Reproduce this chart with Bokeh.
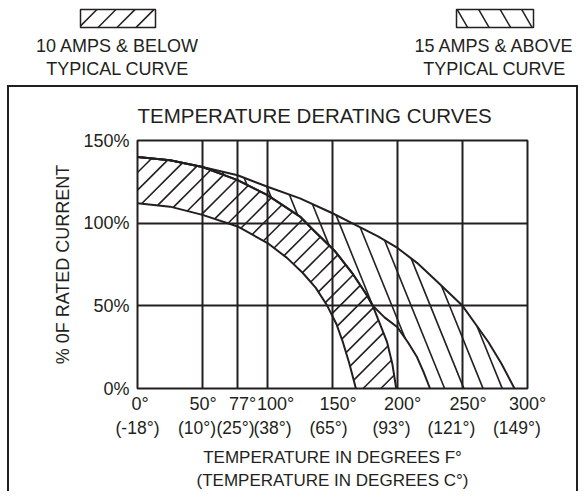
import numpy as np
from bokeh.plotting import figure
from bokeh.layouts import column
from bokeh.models import Range1d, FixedTicker, LinearAxis
from bokeh.embed import file_html
from bokeh.resources import INLINE
from bokeh.core.properties import value

# ---------------- data ----------------
temp_ticks_f = [0, 50, 77, 100, 150, 200, 250, 300]
temp_ticks_c = [-18, 10, 25, 38, 65, 93, 121, 149]
grid_temps_f = [50, 77, 100, 150, 200, 250]
pct_ticks = [0, 50, 100, 150]
grid_pcts = [50, 100]

# 15 amps & above: upper boundary
c1_t = [0, 25, 50, 77, 100, 125, 150, 165, 185, 200, 215, 230, 250, 260, 270, 280, 290]
c1_p = [140, 138, 134, 129, 122, 115, 106, 100, 92, 85, 76, 65, 50, 39, 28, 15, 0]
# 10 amps & below: upper boundary
c2_t = [0, 25, 50, 77, 100, 125, 135, 152, 165, 176, 181, 187, 192, 196, 199]
c2_p = [140, 138, 134, 126, 117, 104, 96, 83, 70, 57, 50, 38, 28, 15, 0]
# 15 amps & above: lower boundary
c3_t = [0, 25, 50, 77, 100, 125, 135, 152, 165, 176, 181, 190, 200, 208, 215, 220, 225]
c3_p = [140, 138, 134, 126, 117, 104, 96, 83, 70, 57, 50, 43, 37, 28, 19, 10, 0]
# 10 amps & below: lower boundary
c4_t = [0, 25, 50, 77, 100, 115, 127, 137, 146, 153, 158, 163, 168]
c4_p = [112, 110, 105, 98, 88, 79, 70, 61, 50, 39, 28, 15, 0]

legend_a = ["10 AMPS & BELOW", "TYPICAL CURVE"]
legend_b = ["15 AMPS & ABOVE", "TYPICAL CURVE"]
title_text = "TEMPERATURE DERATING CURVES"
x_label = "TEMPERATURE IN DEGREES F°\n(TEMPERATURE IN DEGREES C°)"
y_label = "% 0F RATED CURRENT"

INK = "#231f20"
FONT = "Liberation Sans"

# label nudges (pixels) so that crowded tick labels sit side by side as in the original
f_label_nudge_px = [2.5, 0.5, 5, 8, 5.5, 5, 5.5, 0]
c_label_nudge_px = [0, -5.5, -2, 5, -4, -6, -11, -10.5]


def inside_poly(px, py, vx, vy):
    ins = np.zeros(px.shape, bool)
    j = len(vx) - 1
    for i in range(len(vx)):
        xi, yi, xj, yj = vx[i], vy[i], vx[j], vy[j]
        cond = (yi > py) != (yj > py)
        with np.errstate(divide="ignore", invalid="ignore"):
            xint = (xj - xi) * (py - yi) / (yj - yi) + xi
        ins ^= cond & (px < xint)
        j = i
    return ins


def hatch_segments(vx, vy, angle_deg, spacing, phase=0.0, n=1500):
    """parallel lines (y up) clipped to a polygon; spacing measured horizontally"""
    vx = np.asarray(vx, float)
    vy = np.asarray(vy, float)
    th = np.radians(angle_deg)
    d = np.array([np.cos(th), np.sin(th)])
    nr = np.array([-np.sin(th), np.cos(th)])
    proj = vx * nr[0] + vy * nr[1]
    along = vx * d[0] + vy * d[1]
    perp = spacing * abs(np.sin(th))
    t = np.linspace(along.min() - 1, along.max() + 1, n)
    segs = []
    for k in np.arange(np.floor((proj.min() - phase) / perp), np.ceil((proj.max() - phase) / perp) + 1):
        c = phase + k * perp
        px = c * nr[0] + t * d[0]
        py = c * nr[1] + t * d[1]
        ins = inside_poly(px, py, vx, vy).astype(int)
        idx = np.flatnonzero(np.diff(np.concatenate([[0], ins, [0]])))
        for a, b in zip(idx[::2], idx[1::2]):
            if b - 1 > a:
                segs.append((px[a], py[a], px[b - 1], py[b - 1]))
    return segs


# ---------------- header with the two legend keys (page pixel coords) ----------------
HW, HH = 577, 85
hdr = figure(width=HW, height=HH, x_range=Range1d(0, HW), y_range=Range1d(HH, 0),
             output_backend="svg", toolbar_location=None, min_border=0, title=None)
hdr.axis.visible = False
hdr.grid.visible = False
hdr.outline_line_color = None

for (l, r, t, b), ang, sp, ph, lines, cx in (((80, 155, 9, 27), 45, 19.0, 6.0, legend_a, 117),
                                             ((456, 533, 9, 27), -60, 21.5, 0.0, legend_b, 494)):
    segs = hatch_segments([l, r, r, l], [-t, -t, -b, -b], ang, sp, ph, n=400)
    hdr.segment(x0=[s[0] for s in segs], y0=[-s[1] for s in segs],
                x1=[s[2] for s in segs], y1=[-s[3] for s in segs],
                line_color=INK, line_width=1.5)
    hdr.quad(left=[l], right=[r], top=[t], bottom=[b], fill_alpha=0,
             line_color=INK, line_width=1.5)
    hdr.text(x=[cx, cx], y=[45, 68], text=lines, text_font=value(FONT), text_font_size="18px",
             text_color=INK, text_align="center", text_baseline="middle")

# ---------------- main chart ----------------
BX, BY = 9, 89                               # page position of the main canvas (inside the box)
FL, FR, FT, FB = 137, 523, 141, 387          # plot frame in page pixels
SX = (FR - FL) / 300.0
SY = (FB - FT) / 150.0
p = figure(frame_width=FR - FL, frame_height=FB - FT, x_range=Range1d(0, 300), y_range=Range1d(0, 150),
           output_backend="svg", toolbar_location=None,
           min_border_left=FL - BX, min_border_right=576 - FR,
           min_border_top=FT - BY, min_border_bottom=492 - FB,
           styles={"border-top": f"2px solid {INK}", "border-left": f"2px solid {INK}",
                   "border-right": f"2px solid {INK}"})
p.margin = (0, 0, 0, 7)

for f in (hdr, p):
    try:
        f.frame_align = False
    except Exception:
        pass

p.title.text = title_text
p.title.align = "left"
p.title.text_font = FONT
p.title.text_font_size = "20.5px"
p.title.text_font_style = "normal"
p.title.text_color = INK
p.title.text_line_height = 1.0
p.title.standoff = 28

p.outline_line_color = INK
p.outline_line_width = 2
p.outline_line_alpha = 1

p.xgrid.ticker = FixedTicker(ticks=grid_temps_f)
p.ygrid.ticker = FixedTicker(ticks=grid_pcts)
p.grid.grid_line_color = INK
p.grid.grid_line_width = 2
p.grid.grid_line_alpha = 1

# Fahrenheit labels (first line)
f_pos = [t + s / SX for t, s in zip(temp_ticks_f, f_label_nudge_px)]
ax_f = p.xaxis[0]
ax_f.ticker = FixedTicker(ticks=f_pos)
ax_f.major_label_overrides = {pos: f"{t}°" for pos, t in zip(f_pos, temp_ticks_f)}

# Celsius labels (second line) on a second axis below
c_pos = [t + s / SX for t, s in zip(temp_ticks_f, c_label_nudge_px)]
ax_c = LinearAxis(ticker=FixedTicker(ticks=c_pos),
                  major_label_overrides={pos: f"({c}°)" for pos, c in zip(c_pos, temp_ticks_c)})
p.add_layout(ax_c, "below")

p.yaxis.ticker = FixedTicker(ticks=pct_ticks)
p.yaxis.major_label_overrides = {v: f"{v}%" for v in pct_ticks}

for ax in (ax_f, ax_c, p.yaxis[0]):
    ax.axis_line_color = None
    ax.major_tick_line_color = None
    ax.minor_tick_line_color = None
    ax.major_tick_out = 0
    ax.major_tick_in = 0
    ax.minor_tick_out = 0
    ax.major_label_text_font = FONT
    ax.major_label_text_font_size = "18px"
    ax.major_label_text_color = INK
    ax.axis_label_text_font = FONT
    ax.axis_label_text_font_style = "normal"
    ax.axis_label_text_color = INK

ax_f.major_label_standoff = 5
ax_c.major_label_text_font_size = "17.5px"
ax_c.major_label_standoff = 1
ax_c.axis_label = x_label
ax_c.axis_label_text_font_size = "17px"
ax_c.axis_label_text_line_height = 1.25
ax_c.axis_label_standoff = 7

p.yaxis.axis_label = y_label
p.yaxis.axis_label_text_font_size = "18px"
p.yaxis.major_label_standoff = 8
p.yaxis.axis_label_standoff = 7

# ---------------- hatched bands ----------------
band_a_x = c2_t + c4_t[::-1]
band_a_y = c2_p + c4_p[::-1]
band_b_x = c1_t + c3_t[::-1]
band_b_y = c1_p + c3_p[::-1]

for bx, by, ang, sp, ph in ((band_a_x, band_a_y, 45, 17.5, 3.0), (band_b_x, band_b_y, -68, 19.0, 0.0)):
    segs = hatch_segments(np.array(bx) * SX, np.array(by) * SY, ang, sp, ph)
    p.segment(x0=[s[0] / SX for s in segs], y0=[s[1] / SY for s in segs],
              x1=[s[2] / SX for s in segs], y1=[s[3] / SY for s in segs],
              line_color=INK, line_width=1.6)

for xs, ys in ((c1_t, c1_p), (c2_t, c2_p), (c3_t, c3_p), (c4_t, c4_p)):
    p.line(xs, ys, line_color=INK, line_width=2)

layout = column(hdr, p)
open("out.html", "w").write(file_html(layout, INLINE))
